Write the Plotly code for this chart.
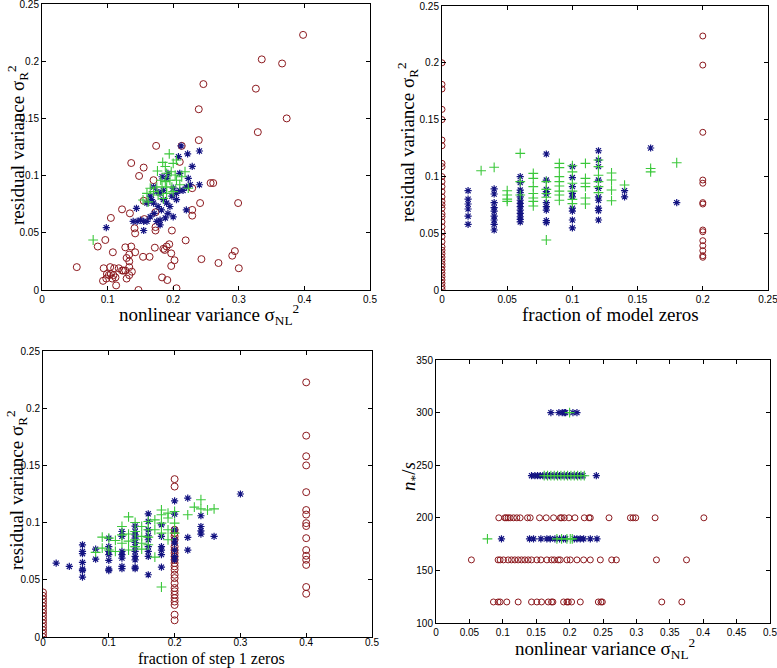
import plotly.graph_objects as go

# ---------------- Panel 1: residual variance vs nonlinear variance ----------------
p1_red_x = [0.398, 0.335, 0.366, 0.246, 0.326, 0.239, 0.373, 0.329, 0.239, 0.174, 0.213, 0.136, 0.210,
            0.155, 0.148, 0.170, 0.229, 0.257, 0.261, 0.241, 0.299, 0.105, 0.122, 0.134, 0.156, 0.155,
            0.173, 0.173, 0.173, 0.141, 0.142, 0.198, 0.229, 0.229, 0.219, 0.0965, 0.085, 0.127, 0.108,
            0.136, 0.142, 0.133, 0.129, 0.133, 0.133, 0.137, 0.172, 0.154, 0.164, 0.185, 0.187, 0.194,
            0.190, 0.197, 0.202, 0.197, 0.183, 0.191, 0.205, 0.147, 0.243, 0.269, 0.290, 0.294, 0.300,
            0.053, 0.094, 0.104, 0.110, 0.117, 0.122, 0.124, 0.127, 0.099, 0.102, 0.105, 0.109, 0.112,
            0.098, 0.093, 0.113, 0.129, 0.133, 0.107]
p1_red_y = [0.223, 0.2016, 0.198, 0.180, 0.176, 0.158, 0.150, 0.138, 0.131, 0.126, 0.126, 0.111, 0.112,
            0.107, 0.0997, 0.096, 0.089, 0.0935, 0.0935, 0.076, 0.076, 0.063, 0.0705, 0.067, 0.062, 0.078,
            0.068, 0.055, 0.052, 0.054, 0.0495, 0.052, 0.065, 0.070, 0.0434, 0.0437, 0.038, 0.0373, 0.033,
            0.038, 0.033, 0.031, 0.028, 0.025, 0.020, 0.016, 0.037, 0.029, 0.029, 0.036, 0.035, 0.040,
            0.038, 0.032, 0.026, 0.021, 0.011, 0.0087, 0.0015, 0.0, 0.027, 0.0236, 0.030, 0.034, 0.019,
            0.020, 0.019, 0.020, 0.019, 0.019, 0.017, 0.017, 0.017, 0.014, 0.013, 0.014, 0.013, 0.011,
            0.010, 0.008, 0.004, 0.010, 0.013, 0.010]
p1_blue_x = [0.098, 0.144, 0.139, 0.145, 0.150, 0.155, 0.160, 0.155, 0.165, 0.171, 0.175, 0.167, 0.170,
             0.177, 0.182, 0.185, 0.190, 0.195, 0.192, 0.200, 0.188, 0.180, 0.198, 0.205, 0.205, 0.210,
             0.215, 0.220, 0.223, 0.226, 0.240, 0.240, 0.222, 0.212, 0.229, 0.208, 0.220, 0.170, 0.175,
             0.180, 0.185, 0.190, 0.200, 0.183, 0.165, 0.160, 0.180, 0.210, 0.192]
p1_blue_y = [0.0545, 0.0714, 0.060, 0.060, 0.061, 0.060, 0.060, 0.052, 0.064, 0.067, 0.060, 0.079, 0.076,
             0.073, 0.070, 0.079, 0.076, 0.073, 0.067, 0.064, 0.063, 0.061, 0.082, 0.079, 0.0845, 0.087,
             0.087, 0.090, 0.0976, 0.092, 0.092, 0.1215, 0.119, 0.126, 0.108, 0.1166, 0.070, 0.090, 0.086,
             0.0845, 0.087, 0.0976, 0.089, 0.099, 0.082, 0.076, 0.057, 0.102, 0.102]
p1_green_x = [0.078, 0.194, 0.176, 0.184, 0.188, 0.200, 0.205, 0.190, 0.197, 0.203, 0.181, 0.188, 0.195,
              0.205, 0.165, 0.170, 0.175, 0.183, 0.190, 0.198, 0.210, 0.223, 0.160, 0.177, 0.190, 0.200,
              0.154, 0.162, 0.185, 0.213, 0.218]
p1_green_y = [0.0437, 0.119, 0.104, 0.1116, 0.108, 0.1107, 0.1136, 0.102, 0.1034, 0.1005, 0.096, 0.0947,
              0.096, 0.096, 0.089, 0.086, 0.090, 0.090, 0.090, 0.090, 0.092, 0.089, 0.0845, 0.083, 0.0845,
              0.086, 0.0787, 0.077, 0.080, 0.099, 0.1034]

# ---------------- Panel 2: residual variance vs fraction of model zeros ----------------
p2_red_x = [0.0] * 38 + [0.2] * 14
p2_red_y = [0.200, 0.181, 0.177, 0.159, 0.150, 0.132, 0.127, 0.1115, 0.1086, 0.0998, 0.0954, 0.091,
            0.0866, 0.082, 0.078, 0.075, 0.072, 0.067, 0.0645, 0.060, 0.0557, 0.051, 0.047, 0.0425,
            0.038, 0.035, 0.032, 0.029, 0.026, 0.023, 0.0205, 0.0176, 0.0147, 0.0117, 0.0088, 0.0059,
            0.003, 0.0006,
            0.2236, 0.198, 0.1388, 0.0968, 0.094, 0.0769, 0.0757, 0.0528, 0.0513, 0.0434, 0.039,
            0.0346, 0.0302, 0.0288]
p2_blue_x = ([0.02] * 6 + [0.04] * 9 + [0.06] * 13 + [0.08] * 10 + [0.10] * 9 + [0.12] * 10
             + [0.14] * 2 + [0.16] + [0.18])
p2_blue_y = [0.0874, 0.080, 0.0757, 0.0713, 0.065, 0.0578,
             0.089, 0.0845, 0.0769, 0.0725, 0.0695, 0.065, 0.0616, 0.0578, 0.0528,
             0.0998, 0.0945, 0.088, 0.0857, 0.082, 0.079, 0.0763, 0.0734, 0.0704, 0.0675, 0.0645,
             0.0622, 0.0599,
             0.1197, 0.0968, 0.0886, 0.0866, 0.0845, 0.0769, 0.0734, 0.0704, 0.061, 0.0593,
             0.1086, 0.099, 0.091, 0.085, 0.082, 0.072, 0.0695, 0.0616, 0.0546,
             0.1226, 0.1144, 0.1086, 0.0968, 0.0895, 0.082, 0.079, 0.072, 0.0698, 0.0616,
             0.0874, 0.082,
             0.125,
             0.0769]
p2_green_x = ([0.03] + [0.04] + [0.05] * 4 + [0.06] * 3 + [0.07] * 7 + [0.08] * 5 + [0.09] * 8
              + [0.10] * 6 + [0.11] * 6 + [0.12] * 6 + [0.13] * 4 + [0.14] + [0.16] * 2 + [0.18])
p2_green_y = [0.105,
              0.108,
              0.0874, 0.0836, 0.080, 0.078,
              0.1203, 0.0954, 0.0836,
              0.1027, 0.0983, 0.091, 0.085, 0.081, 0.078, 0.074,
              0.0954, 0.0886, 0.085, 0.0816, 0.044,
              0.1115, 0.1077, 0.0998, 0.0954, 0.0915, 0.087, 0.0836, 0.079,
              0.1094, 0.104, 0.094, 0.087, 0.0798, 0.076,
              0.1115, 0.0983, 0.094, 0.091, 0.081, 0.0757,
              0.1144, 0.1086, 0.101, 0.0954, 0.091, 0.0857,
              0.103, 0.0968, 0.088, 0.0786,
              0.0924,
              0.107, 0.104,
              0.112]

# ---------------- Panel 3: residual variance vs fraction of step 1 zeros ----------------
p3_red_x = [0.0] * 14 + [0.2] * 25 + [0.4] * 16
p3_red_y = [0.000, 0.003, 0.006, 0.009, 0.012, 0.015, 0.018, 0.021, 0.024, 0.027, 0.030, 0.033, 0.036,
            0.039,
            0.138, 0.1315, 0.0937, 0.091, 0.088, 0.085, 0.079, 0.076, 0.0733, 0.0704, 0.0675, 0.0646,
            0.0617, 0.0588, 0.0544, 0.0515, 0.047, 0.0428, 0.040, 0.037, 0.034, 0.031, 0.028, 0.0195,
            0.0146,
            0.2226, 0.176, 0.158, 0.150, 0.1266, 0.111, 0.107, 0.0995, 0.097, 0.0864, 0.076, 0.071,
            0.0675, 0.063, 0.0437, 0.0378]
p3_blue_x = ([0.02] + [0.04] + [0.06] * 7 + [0.08] * 2 + [0.10] * 7 + [0.12] * 7 + [0.14] * 11
             + [0.16] * 9 + [0.18] * 6 + [0.20] * 8 + [0.22] * 3 + [0.24] * 4 + [0.26] + [0.30])
p3_blue_y = [0.0646,
             0.0617,
             0.0806, 0.0748, 0.0728, 0.0652, 0.0594, 0.058, 0.0524,
             0.0768, 0.068,
             0.0864, 0.079, 0.0748, 0.072, 0.067, 0.0594, 0.058,
             0.0922, 0.088, 0.0748, 0.072, 0.069, 0.0617, 0.0597,
             0.097, 0.0922, 0.0893, 0.0864, 0.0826, 0.079, 0.0748, 0.0704, 0.0675, 0.061, 0.0597,
             0.1077, 0.101, 0.0937, 0.0885, 0.085, 0.079, 0.0748, 0.0704, 0.0544,
             0.098, 0.088, 0.079, 0.076, 0.072, 0.061,
             0.119, 0.1074, 0.0937, 0.085, 0.082, 0.076, 0.0704, 0.0675,
             0.1214, 0.087, 0.076,
             0.106, 0.0966, 0.0928, 0.090,
             0.088,
             0.125]
p3_green_x = ([0.08] + [0.09] * 2 + [0.10] * 2 + [0.11] * 2 + [0.12] * 3 + [0.13] * 4 + [0.14] * 4
              + [0.15] * 4 + [0.16] * 4 + [0.17] * 3 + [0.18] * 5 + [0.19] * 4 + [0.20] * 3
              + [0.22] + [0.23] + [0.24] * 2 + [0.25] + [0.26])
p3_green_y = [0.074,
              0.0873, 0.0777,
              0.0864, 0.076,
              0.0844, 0.0748,
              0.0966, 0.0893, 0.082,
              0.105, 0.090, 0.0838, 0.076,
              0.1001, 0.0922, 0.085, 0.079,
              0.0966, 0.088, 0.082, 0.0768,
              0.101, 0.0937, 0.0873, 0.0806,
              0.1024, 0.0937, 0.0698,
              0.111, 0.1068, 0.0995, 0.0908, 0.0437,
              0.1083, 0.104, 0.0937, 0.085,
              0.1097, 0.0995, 0.0908,
              0.1068,
              0.1135,
              0.120, 0.112,
              0.111,
              0.112]

# ---------------- Panel 4: n*/s vs nonlinear variance ----------------
p4_red_x = [0.094, 0.103, 0.105, 0.108, 0.111, 0.116, 0.121, 0.126, 0.137, 0.141, 0.155, 0.165, 0.176,
            0.186, 0.188, 0.192, 0.199, 0.208, 0.222, 0.229, 0.231, 0.259, 0.291, 0.295, 0.299, 0.328,
            0.401,
            0.053, 0.093, 0.096, 0.101, 0.108, 0.113, 0.118, 0.123, 0.128, 0.133, 0.138, 0.143, 0.151,
            0.157, 0.166, 0.173, 0.177, 0.183, 0.186, 0.196, 0.201, 0.211, 0.221, 0.231, 0.246, 0.263,
            0.270, 0.330, 0.375,
            0.086, 0.093, 0.096, 0.106, 0.123, 0.143, 0.151, 0.158, 0.168, 0.173, 0.175, 0.191, 0.196,
            0.198, 0.203, 0.216, 0.243, 0.247, 0.249, 0.338, 0.368]
p4_red_y = [200] * 27 + [160] * 29 + [120] * 21
p4_blue_x = [0.172, 0.184, 0.189, 0.192, 0.194, 0.205, 0.211,
             0.143, 0.148, 0.152, 0.156, 0.160, 0.165, 0.170, 0.175, 0.180, 0.185, 0.190, 0.195,
             0.200, 0.205, 0.210, 0.215, 0.220, 0.240,
             0.098, 0.140, 0.146, 0.157, 0.166, 0.171, 0.178, 0.185, 0.191, 0.194, 0.207, 0.211,
             0.216, 0.221, 0.231, 0.241]
p4_blue_y = [300] * 7 + [240] * 18 + [180] * 16
p4_green_x = [0.200,
              0.162, 0.167, 0.172, 0.177, 0.182, 0.187, 0.192, 0.197, 0.202, 0.207, 0.212, 0.217, 0.222,
              0.077, 0.181, 0.188, 0.196, 0.201, 0.204]
p4_green_y = [300] + [240] * 13 + [180] * 6

# ---------------- Axis ticks and titles ----------------
p1_xticks = [0, 0.1, 0.2, 0.3, 0.4, 0.5]
p2_xticks = [0, 0.05, 0.1, 0.15, 0.2, 0.25]
p4_xticks = [0, 0.05, 0.1, 0.15, 0.2, 0.25, 0.3, 0.35, 0.4, 0.45, 0.5]
resid_yticks = [0, 0.05, 0.1, 0.15, 0.2, 0.25]
p4_yticks = [100, 150, 200, 250, 300, 350]

SIG_R = "residual variance σ<sub>R</sub><sup>2</sup>"
SIG_NL = "nonlinear variance σ<sub>NL</sub><sup>2</sup>"
MODEL_ZEROS = "fraction of model zeros"
STEP1_ZEROS = "fraction of step 1 zeros"
NSTAR_S = "<i>n</i><sub>*</sub>/<i>s</i>"

RED = "rgb(140,25,30)"
BLUE = "rgb(20,20,130)"
GREEN = "rgb(60,200,60)"

fig = go.Figure()


def add_panel(n, rx, ry, bx, by, gx, gy, csize=7):
    xa = "x" if n == 1 else f"x{n}"
    ya = "y" if n == 1 else f"y{n}"
    fig.add_trace(go.Scatter(x=rx, y=ry, mode="markers", xaxis=xa, yaxis=ya, showlegend=False,
                             marker=dict(symbol="circle-open", size=csize, color=RED,
                                         line=dict(width=1, color=RED))))
    fig.add_trace(go.Scatter(x=bx, y=by, mode="markers", xaxis=xa, yaxis=ya, showlegend=False,
                             marker=dict(symbol="asterisk-open", size=6, color=BLUE,
                                         line=dict(width=1.2, color=BLUE))))
    fig.add_trace(go.Scatter(x=gx, y=gy, mode="markers", xaxis=xa, yaxis=ya, showlegend=False,
                             marker=dict(symbol="cross-thin-open", size=7, color=GREEN,
                                         line=dict(width=1.1, color=GREEN))))


add_panel(1, p1_red_x, p1_red_y, p1_blue_x, p1_blue_y, p1_green_x, p1_green_y, csize=7)
add_panel(2, p2_red_x, p2_red_y, p2_blue_x, p2_blue_y, p2_green_x, p2_green_y, csize=6)
add_panel(3, p3_red_x, p3_red_y, p3_blue_x, p3_blue_y, p3_green_x, p3_green_y, csize=7)
add_panel(4, p4_red_x, p4_red_y, p4_blue_x, p4_blue_y, p4_green_x, p4_green_y, csize=6)

W, H = 777, 668
TICKFONT = dict(family="Liberation Sans, Arial, sans-serif", size=10, color="black")
TITLEFONT = dict(family="Liberation Serif, Times New Roman, serif", size=19, color="black")


def axis(domain, rng, ticks, anchor, standoff=None):
    d = dict(domain=domain, range=rng, tickvals=ticks, ticktext=[f"{t:g}" for t in ticks],
             anchor=anchor, showgrid=False, zeroline=False, showline=True, linecolor="black",
             linewidth=1, mirror="ticks", ticks="inside", ticklen=4, tickcolor="black",
             tickfont=TICKFONT, automargin=False, ticklabeloverflow="allow")
    if standoff is not None:
        d["ticklabelstandoff"] = standoff
    return d


fig.update_layout(
    width=W, height=H, margin=dict(l=0, r=0, t=0, b=0, autoexpand=False),
    paper_bgcolor="white", plot_bgcolor="white",
    xaxis=axis([42 / W, 370 / W], [0, 0.5], p1_xticks, "y"),
    yaxis=axis([1 - 290 / H, 1 - 4 / H], [0, 0.25], resid_yticks, "x"),
    xaxis2=axis([442 / W, 768 / W], [0, 0.25], p2_xticks, "y2"),
    yaxis2=axis([1 - 290 / H, 1 - 6 / H], [0, 0.25], resid_yticks, "x2"),
    xaxis3=axis([43 / W, 372 / W], [0, 0.5], p1_xticks, "y3", standoff=-4),
    yaxis3=axis([1 - 637 / H, 1 - 351 / H], [0, 0.25], resid_yticks, "x3"),
    xaxis4=axis([436 / W, 770 / W], [0, 0.5], p4_xticks, "y4"),
    yaxis4=axis([1 - 623 / H, 1 - 360 / H], [100, 350], p4_yticks, "x4"),
)

titles = [
    (SIG_NL, 209, 314, 0, 19),
    (SIG_R, 17, 145, -90, 19),
    (MODEL_ZEROS, 610, 314, 0, 19),
    (SIG_R, 408, 142, -90, 19),
    (STEP1_ZEROS, 212, 659, 0, 16),
    (SIG_R, 17, 490, -90, 19),
    (SIG_NL, 605, 648, 0, 19),
    (NSTAR_S, 410, 477, -90, 19),
]
for text, px, py, ang, fs in titles:
    fig.add_annotation(text=text, x=px / W, y=1 - py / H, xref="paper", yref="paper",
                       xanchor="center", yanchor="middle", showarrow=False, textangle=ang,
                       font=dict(TITLEFONT, size=fs))

# remove the default page margin so the figure fills the window exactly
fig.write_html("out.html", config={"displayModeBar": False},
               post_script="document.body.style.margin='0';")
